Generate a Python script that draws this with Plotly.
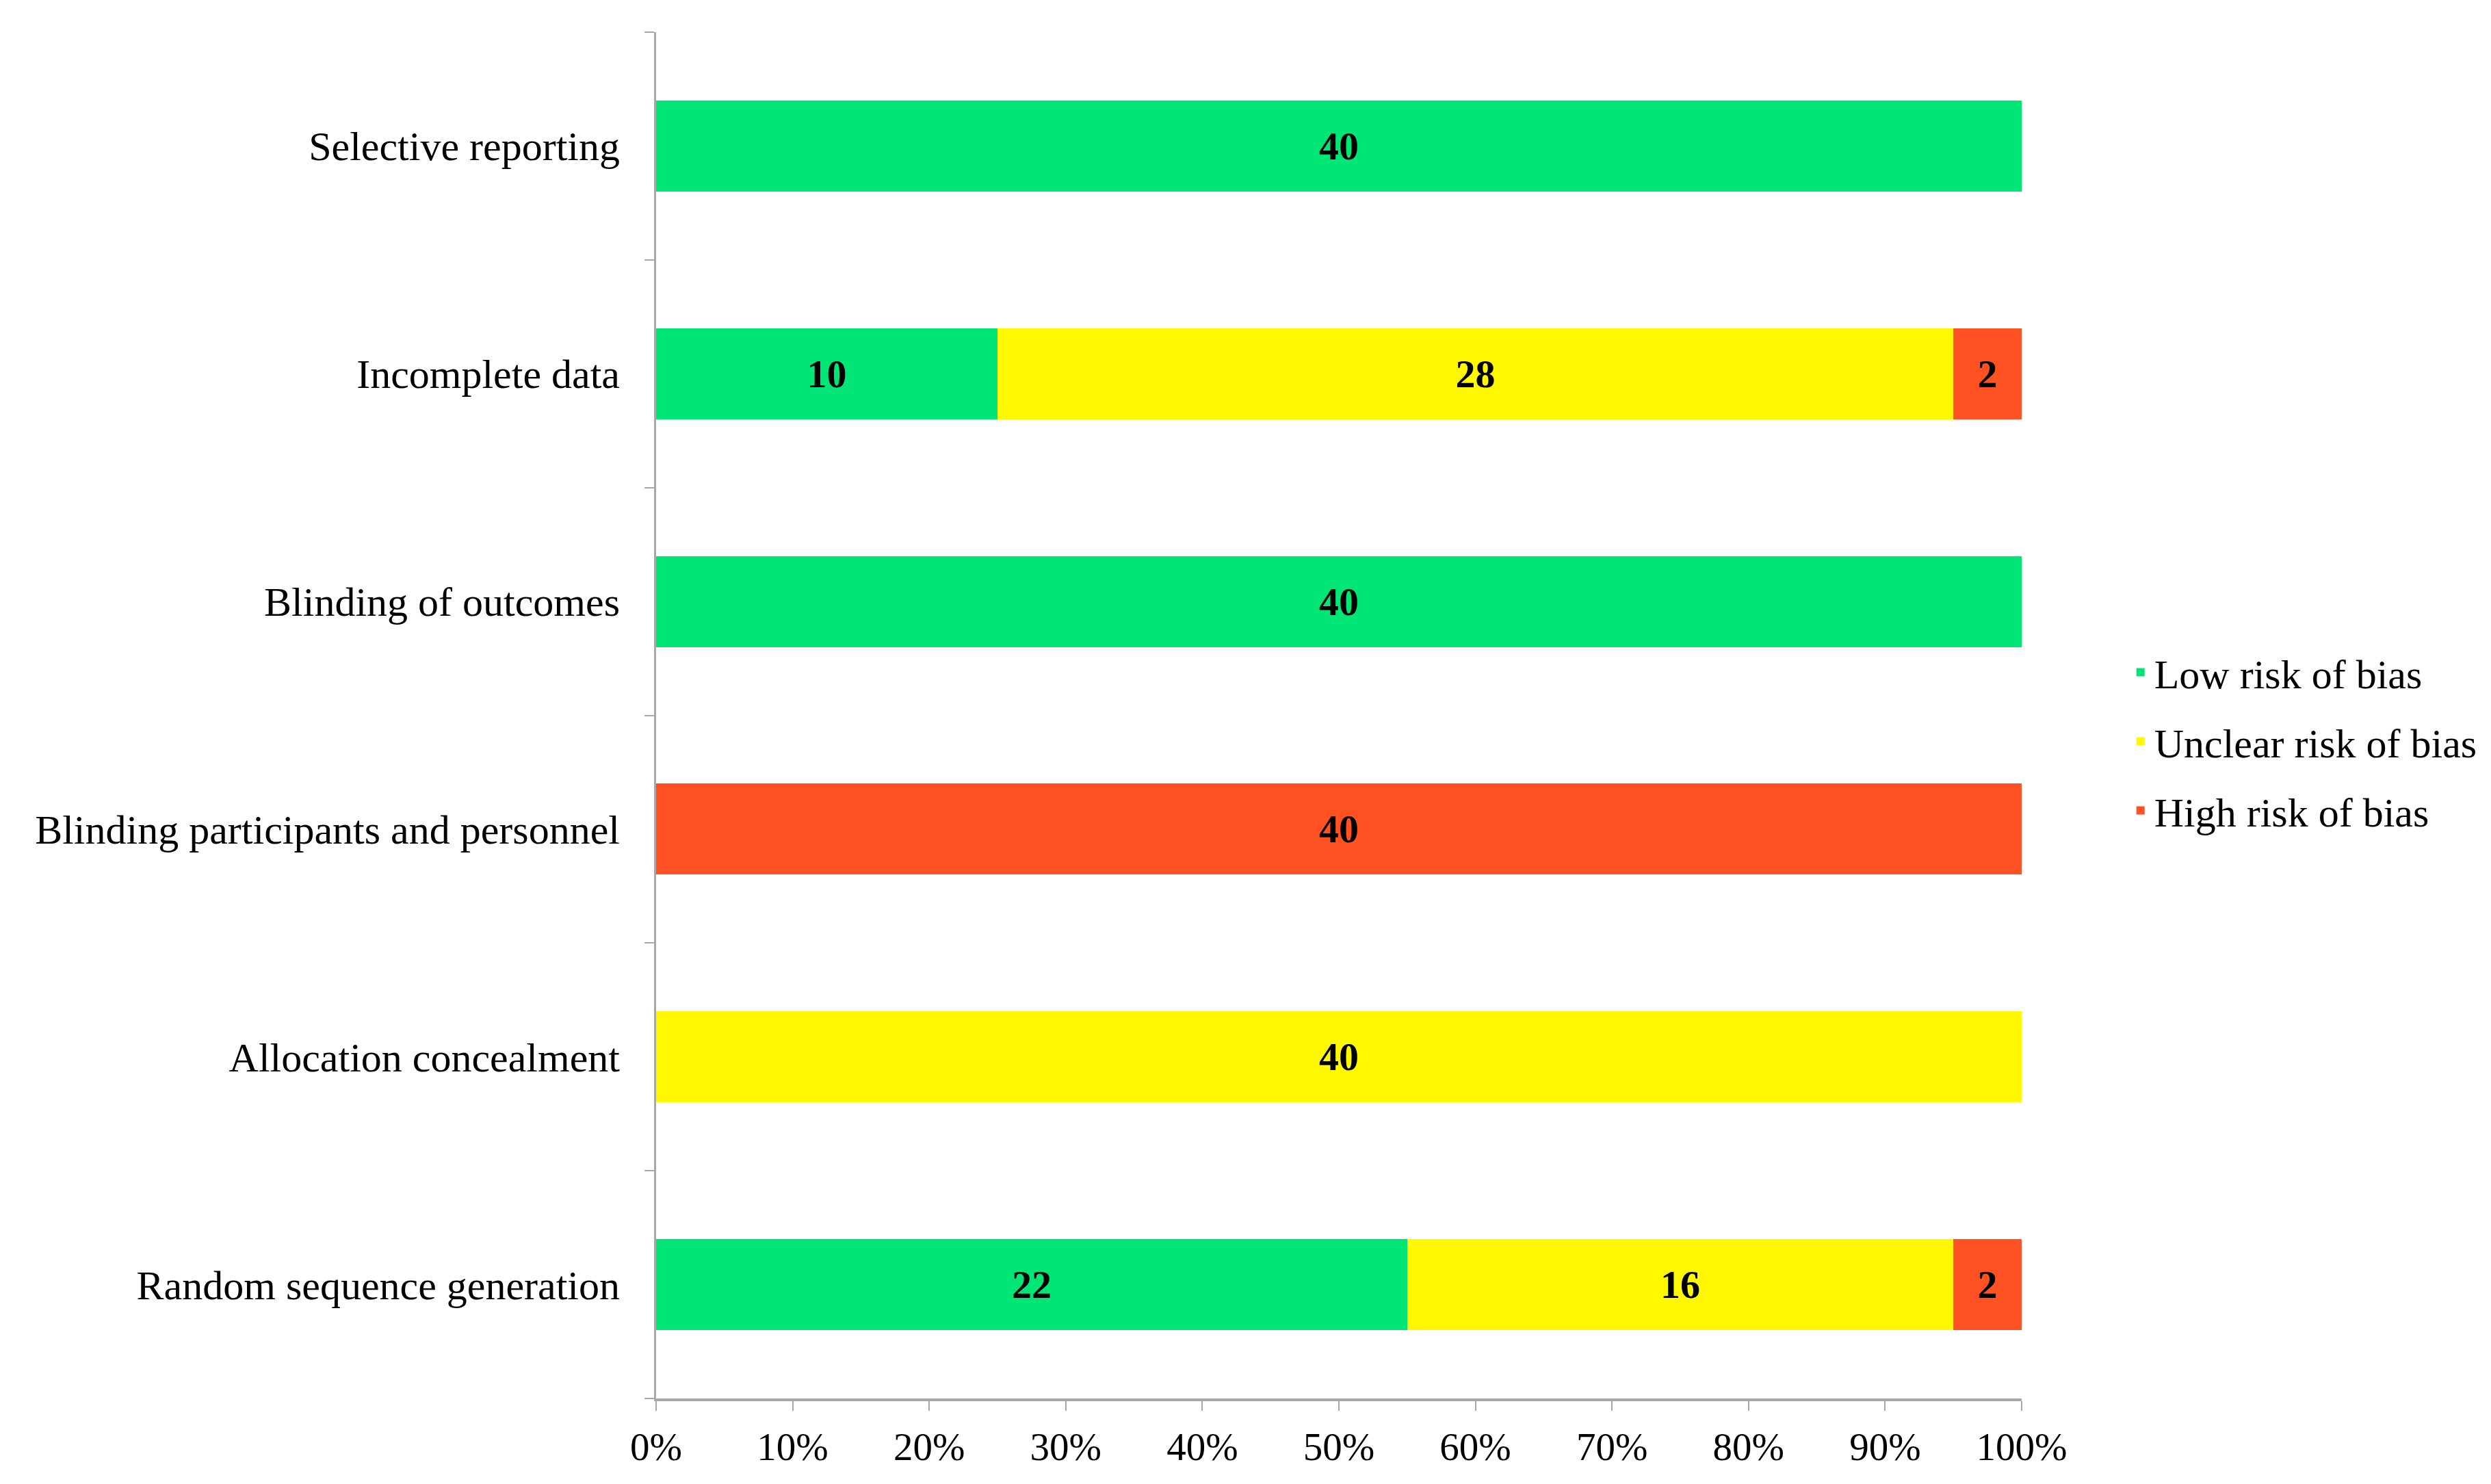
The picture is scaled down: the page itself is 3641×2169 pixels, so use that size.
import plotly.graph_objects as go

categories = [
    "Random sequence generation",
    "Allocation concealment",
    "Blinding participants and personnel",
    "Blinding of outcomes",
    "Incomplete data",
    "Selective reporting",
]
low_risk = [22, 0, 0, 40, 10, 40]
unclear_risk = [16, 40, 0, 0, 28, 0]
high_risk = [2, 0, 40, 0, 2, 0]
series_names = ["Low risk of bias", "Unclear risk of bias", "High risk of bias"]
series_colors = ["#00E676", "#FFF800", "#FF5122"]
x_ticks = list(range(0, 101, 10))
x_tick_labels = [f"{v}%" for v in x_ticks]

FONT = "Liberation Serif"
W, H = 3641, 2169
L, R, T, B = 951, 694, 39, 133

fig = go.Figure()
for i, (name, vals, col) in enumerate(zip(series_names, [low_risk, unclear_risk, high_risk], series_colors)):
    fig.add_trace(go.Bar(
        y=categories, x=vals, name=name, orientation="h",
        marker=dict(color=col, line=dict(width=0)),
        text=[str(v) if v else "" for v in vals],
        textposition="inside", insidetextanchor="middle", textangle=0,
        textfont=dict(family=FONT, size=58, color="black", weight="bold"),
        legendgroup=f"g{i}", hoverinfo="skip",
    ))

fig.update_layout(
    width=W, height=H,
    margin=dict(l=L, r=R, t=T, b=B, autoexpand=False),
    barmode="stack", barnorm="percent", bargap=0.6,
    plot_bgcolor="white", paper_bgcolor="white",
    font=dict(family=FONT, size=60, color="black"),
    legend=dict(
        x=1.077, y=0.481, xanchor="left", yanchor="middle",
        font=dict(family=FONT, size=60, color="black"),
        traceorder="grouped", tracegroupgap=20,
        bgcolor="rgba(0,0,0,0)",
    ),
    uniformtext=dict(mode=False),
)
fig.update_xaxes(
    range=[0, 100], tickmode="array", tickvals=x_ticks, ticktext=x_tick_labels,
    showgrid=False, zeroline=False,
    showline=True, linecolor="#A8A8A8", linewidth=4,
    ticks="outside", ticklen=14, tickwidth=2, tickcolor="#A8A8A8",
    tickfont=dict(family=FONT, size=57, color="black"),
    ticklabelstandoff=4,
)
fig.update_yaxes(
    categoryorder="array", categoryarray=categories,
    range=[-0.5, 5.5],
    showgrid=False, zeroline=False,
    showline=True, linecolor="#A8A8A8", linewidth=3,
    ticks="outside", ticklen=14, tickwidth=2, tickcolor="#A8A8A8",
    tickson="boundaries",
    tickfont=dict(family=FONT, size=60, color="black"),
    ticklabelstandoff=38,
)

fig.write_html("out.html")
